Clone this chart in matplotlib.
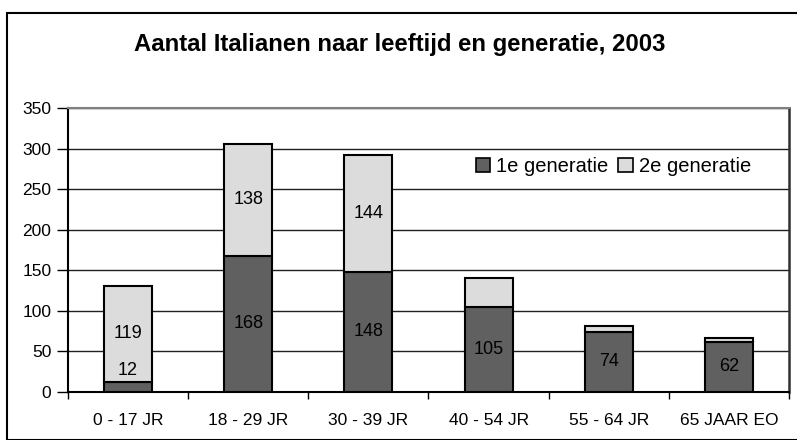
import matplotlib
matplotlib.use("Agg")
import matplotlib.pyplot as plt
from matplotlib.patches import Rectangle, Patch
import numpy as np

categories = ["0 - 17 JR", "18 - 29 JR", "30 - 39 JR", "40 - 54 JR", "55 - 64 JR", "65 JAAR EO"]
gen1 = [12, 168, 148, 105, 74, 62]
gen2 = [119, 138, 144, 36, 7, 5]
gen1_labels = ["12", "168", "148", "105", "74", "62"]
gen2_labels = ["119", "138", "144", "", "", ""]
title = "Aantal Italianen naar leeftijd en generatie, 2003"

plt.rcParams['font.family'] = ['Liberation Sans', 'DejaVu Sans']

W, H = 797, 440
fig = plt.figure(figsize=(W/100, H/100), dpi=100)

# outer frame
fig.patches.append(Rectangle((7/W, 0), 1.0, (H-13)/H, transform=fig.transFigure,
                             fill=False, edgecolor='black', linewidth=1.5, clip_on=False))

ax = fig.add_axes([68/W, (H-392)/H, (789-68)/W, (392-108)/H])
x = np.arange(len(categories))
c1 = '#606060'
c2 = '#dcdcdc'
ax.bar(x, gen1, width=0.4, color=c1, edgecolor='black', linewidth=1.5, zorder=3)
ax.bar(x, gen2, width=0.4, bottom=gen1, color=c2, edgecolor='black', linewidth=1.5, zorder=3)

for i in range(len(categories)):
    if gen1_labels[i]:
        y = max(gen1[i] / 2, 27)
        ax.text(x[i], y, gen1_labels[i], ha='center', va='center', fontsize=13, zorder=4)
    if gen2_labels[i]:
        ax.text(x[i], gen1[i] + gen2[i] / 2, gen2_labels[i], ha='center', va='center', fontsize=13, zorder=4)

ax.set_xlim(-0.5, len(categories) - 0.5)
ax.set_ylim(0, 350)
ax.set_yticks(np.arange(0, 351, 50))
ax.yaxis.grid(True, color='#202020', linewidth=1.0, zorder=0)
ax.set_axisbelow(True)
ax.set_xticks(np.arange(len(categories) + 1) - 0.5, minor=False)
ax.set_xticklabels([])
ax.set_xticks(x, minor=True)
ax.set_xticklabels(categories, minor=True, fontsize=12.5)
ax.tick_params(axis='x', which='minor', length=0, pad=15)
ax.tick_params(axis='x', which='major', length=5, width=1, direction='out')
ax.tick_params(axis='y', length=8, width=1, direction='out', labelsize=12.5, pad=4)
for s in ['left', 'bottom']:
    ax.spines[s].set_linewidth(1.5)
ax.spines['top'].set_color('#808080')
ax.spines['top'].set_linewidth(1.5)
ax.spines['right'].set_color('#303030')
ax.spines['right'].set_linewidth(1.8)

handles = [Patch(facecolor=c1, edgecolor='black', linewidth=1.2, label='1e generatie'),
           Patch(facecolor=c2, edgecolor='black', linewidth=1.2, label='2e generatie')]
ax.legend(handles=handles, loc='center left', bbox_to_anchor=((476-68)/(789-68), 1 - (167-108)/(392-108)),
          ncol=2, frameon=False, fontsize=14.5, handlelength=0.7, handleheight=0.7,
          handletextpad=0.3, columnspacing=0.5, borderaxespad=0, borderpad=0)

fig.text(400/W, 1 - 44/H, title, ha='center', va='center', fontsize=17.2, fontweight='bold')

fig.savefig('out.png', dpi=100)
